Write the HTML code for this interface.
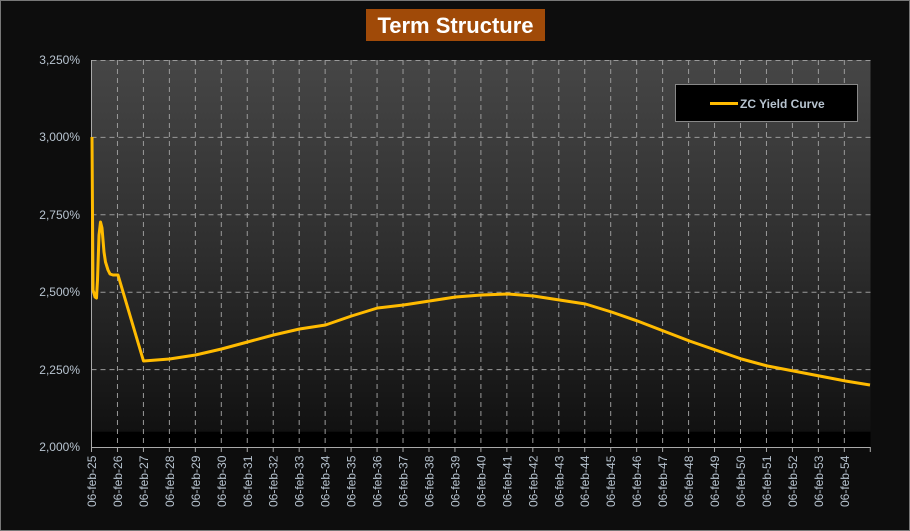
<!DOCTYPE html>
<html><head><meta charset="utf-8"><style>
html,body{margin:0;padding:0;background:#0d0d0d}
svg{display:block}
text{font-family:"Liberation Sans",sans-serif}
</style></head><body>
<svg width="910" height="531" viewBox="0 0 910 531" xmlns="http://www.w3.org/2000/svg">
<defs>
<linearGradient id="bg" x1="0" y1="0" x2="0" y2="1">
<stop offset="0" stop-color="#464646"/>
<stop offset="0.5" stop-color="#2e2e2e"/>
<stop offset="0.96" stop-color="#111"/>
<stop offset="0.961" stop-color="#000"/>
<stop offset="1" stop-color="#000"/>
</linearGradient>
</defs>
<rect x="0" y="0" width="910" height="531" fill="#0d0d0d"/>
<rect x="0.5" y="0.5" width="909" height="530" fill="none" stroke="#777" stroke-width="1"/>
<rect x="366" y="9" width="179" height="32" fill="#a04a08"/>
<text x="455.5" y="33" text-anchor="middle" font-size="22" font-weight="bold" fill="#fff">Term Structure</text>
<rect x="91.5" y="60" width="779" height="387" fill="url(#bg)"/>
<g stroke="#9a9a9a" stroke-width="1" stroke-dasharray="5,4" fill="none" id="grid"></g>
<g stroke="#aaa" stroke-width="1">
<line x1="91.5" y1="60" x2="91.5" y2="447"/>
<line x1="91.5" y1="447.5" x2="870.5" y2="447.5"/>
</g>
<g id="ticks"></g>
<polyline fill="none" stroke="#ffbb00" stroke-width="3" stroke-linejoin="round" points="92,137 93,290 95,297 96.5,298 97.5,280 99,235 100.5,222 102,228 104,252 105.5,262 108,270 110,274 113,275 118,275 143.5,361 169.5,359 195.5,355 221.5,349 247.5,342 273.5,335 299.5,329 325.5,325 351.5,316 377.5,308 403.5,305 429.5,301 455.5,297 481.5,295 507.5,294 533.5,296 559.5,300 585.5,304 611.5,312 637.5,321 663.5,331 689.5,341 715.5,350 741.5,359 767.5,366 793.5,371 819.5,376 845.5,381 870,385"/>
<rect x="675.5" y="84.5" width="182" height="37" fill="#000" stroke="#888" stroke-width="1"/>
<line x1="710" y1="103.5" x2="738" y2="103.5" stroke="#ffbb00" stroke-width="3"/>
<text x="740" y="108" font-size="12" font-weight="bold" fill="#b8c4d0">ZC Yield Curve</text>
<g font-size="12" fill="#b8c4d0" text-anchor="end">
<text x="80" y="64">3,250%</text>
<text x="80" y="141">3,000%</text>
<text x="80" y="219">2,750%</text>
<text x="80" y="296">2,500%</text>
<text x="80" y="374">2,250%</text>
<text x="80" y="451">2,000%</text>
</g>
<g id="xl" font-size="12" fill="#b8c4d0"></g>
</svg>
<script>
var ns="http://www.w3.org/2000/svg",g=document.getElementById("grid"),xl=document.getElementById("xl"),tk=document.getElementById("ticks");
function L(p,a){var e=document.createElementNS(ns,"line");for(var k in a)e.setAttribute(k,a[k]);p.appendChild(e);}
[137.4,214.8,292.2,369.6].forEach(function(y){L(g,{x1:91.5,x2:870.5,y1:y,y2:y});});
L(g,{x1:91.5,x2:870.5,y1:60.5,y2:60.5});
for(var i=0;i<=30;i++){var x=91.5+i*25.96;
 if(i>0&&i<30)L(g,{x1:x,x2:x,y1:60,y2:447});
 L(tk,{x1:x,x2:x,y1:447,y2:452,stroke:"#aaa"});
 if(i<30){var t=document.createElementNS(ns,"text");t.setAttribute("transform","translate("+(x+4.5)+",507) rotate(-90)");
 t.textContent="06-feb-"+(25+i);xl.appendChild(t);}}
</script>
</body></html>
